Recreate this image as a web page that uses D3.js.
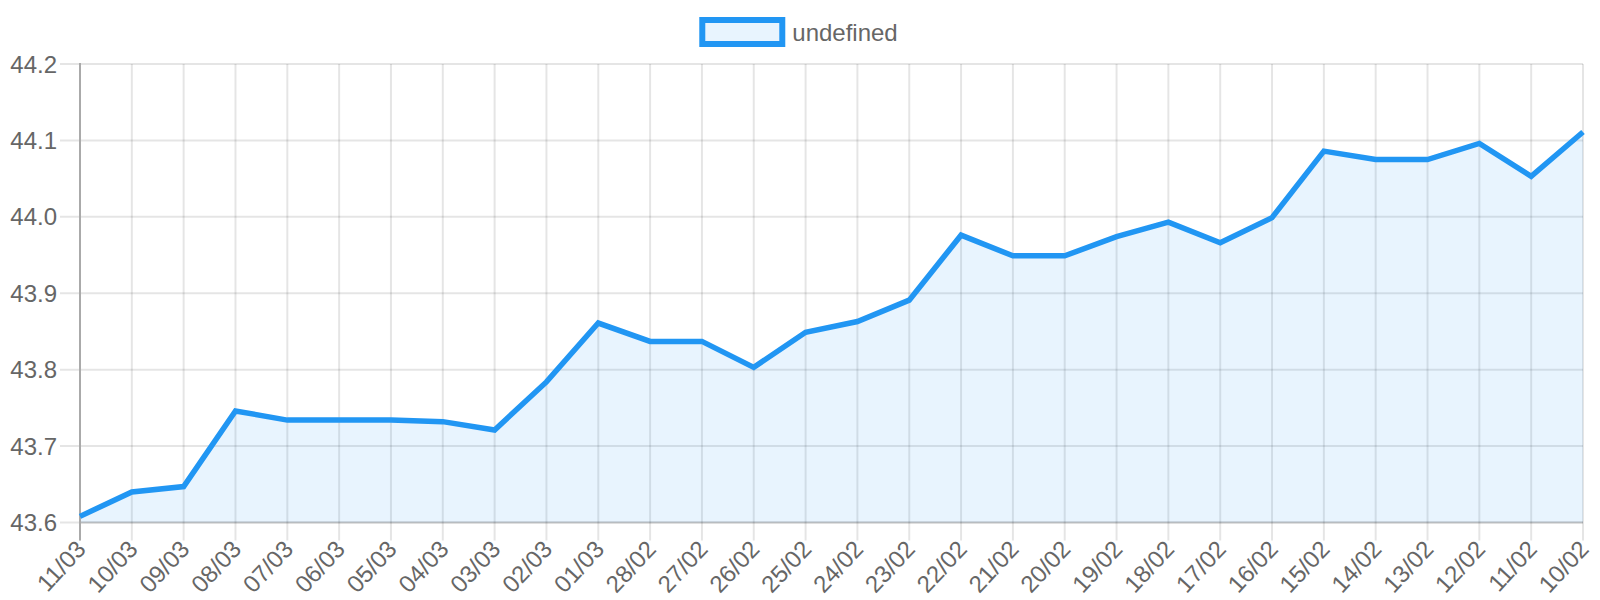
<!DOCTYPE html>
<html>
<head>
<meta charset="utf-8">
<script src="https://cdn.jsdelivr.net/npm/d3@7"></script>
<style>
  html, body { margin: 0; padding: 0; background: #fff; }
  svg { display: block; font-family: "Liberation Sans", Arial, Helvetica, sans-serif; }
</style>
</head>
<body>
<svg id="chart" width="1600" height="600"></svg>
<script>
const labels = ["11/03","10/03","09/03","08/03","07/03","06/03","05/03","04/03","03/03","02/03",
  "01/03","28/02","27/02","26/02","25/02","24/02","23/02","22/02","21/02","20/02",
  "19/02","18/02","17/02","16/02","15/02","14/02","13/02","12/02","11/02","10/02"];
const values = [43.608,43.640,43.647,43.746,43.734,43.734,43.734,43.732,43.721,43.784,
  43.861,43.837,43.837,43.803,43.849,43.863,43.891,43.976,43.949,43.949,
  43.974,43.993,43.966,43.999,44.086,44.075,44.075,44.096,44.053,44.111];
const yTicks = [43.6,43.7,43.8,43.9,44.0,44.1,44.2];
const seriesName = "undefined";

(function () {
const svg = d3.select("#chart");
const pLeft = 80, pRight = 1583, pTop = 64, pBottom = 522.5;
const tickLen = 20;
const gridColor = "rgba(0,0,0,0.1)";
const lineColor = "#2196F3";
const fillColor = "rgba(33,150,243,0.1)";
const textColor = "#666";

const x = d3.scalePoint().domain(labels).range([pLeft, pRight]);
const y = d3.scaleLinear().domain([43.6, 44.2]).range([pBottom, pTop]);

// grid
const grid = svg.append("g");
grid.selectAll(".hg").data(yTicks).join("line")
  .attr("x1", pLeft - tickLen).attr("x2", pRight)
  .attr("y1", d => y(d)).attr("y2", d => y(d))
  .attr("stroke", gridColor).attr("stroke-width", 2);
grid.selectAll(".vg").data(labels).join("line")
  .attr("x1", d => x(d)).attr("x2", d => x(d))
  .attr("y1", pTop).attr("y2", pBottom + tickLen - 2)
  .attr("stroke", gridColor).attr("stroke-width", 2);

// area + line
const data = labels.map((l, i) => ({l, v: values[i]}));
svg.append("path").datum(data)
  .attr("d", d3.area().x(d => x(d.l)).y0(pBottom).y1(d => y(d.v)))
  .attr("fill", fillColor);

// axis borders
svg.append("line").attr("x1", pLeft).attr("x2", pRight).attr("y1", pBottom).attr("y2", pBottom)
  .attr("stroke", "rgba(0,0,0,0.16)").attr("stroke-width", 2);
svg.append("line").attr("x1", pLeft).attr("x2", pLeft).attr("y1", pTop - 1).attr("y2", pBottom + tickLen - 2)
  .attr("stroke", "#aaaaaa").attr("stroke-width", 2);

svg.append("path").datum(data)
  .attr("d", d3.line().x(d => x(d.l)).y(d => y(d.v)))
  .attr("fill", "none").attr("stroke", lineColor).attr("stroke-width", 5.5)
  .attr("stroke-linejoin", "miter").attr("stroke-miterlimit", 10);

// y labels
svg.append("g").selectAll("text").data(yTicks).join("text")
  .attr("x", 57).attr("y", d => y(d))
  .attr("text-anchor", "end").attr("dominant-baseline", "central")
  .attr("font-size", 24).attr("fill", textColor)
  .text(d => d3.format(".1f")(d));

// x labels
svg.append("g").selectAll("text").data(labels).join("text")
  .attr("transform", d => `translate(${x(d) + 1},${pBottom + tickLen + 2}) rotate(-47)`)
  .attr("text-anchor", "end").attr("dominant-baseline", "central")
  .attr("font-size", 24).attr("fill", textColor)
  .text(d => d);

// legend
const lg = svg.append("g");
const lt = lg.append("text").attr("y", 32).attr("dominant-baseline", "central")
  .attr("font-size", 24).attr("fill", textColor).text(seriesName);
const tw = lt.node().getComputedTextLength();
const boxW = 80, gap = 10;
const startX = 800 - (boxW + gap + tw) / 2;
lg.insert("rect", "text").attr("x", startX).attr("y", 20).attr("width", boxW).attr("height", 24)
  .attr("fill", fillColor).attr("stroke", lineColor).attr("stroke-width", 6);
lt.attr("x", startX + boxW + gap);
})();
</script>
</body>
</html>
